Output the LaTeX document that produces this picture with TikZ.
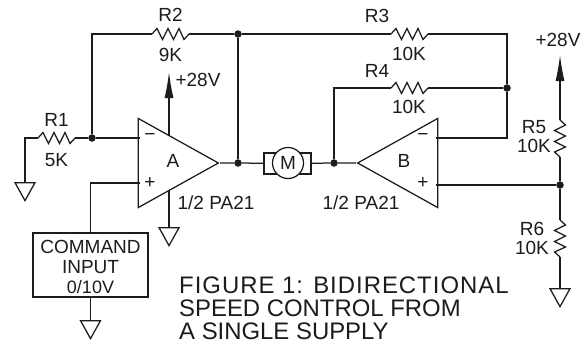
\documentclass[tikz,border=0pt]{standalone}
\usepackage{fontspec}
\setmainfont{Liberation Sans}
\newfontfamily\capfont[LetterSpace=4.2]{Liberation Sans}
\usetikzlibrary{positioning}
\usetikzlibrary{calc}
\usetikzlibrary{arrows.meta}
\usetikzlibrary{shapes.geometric}
\definecolor{ink}{HTML}{1c1c1c}
\tikzset{
    wire/.style={draw=ink, line width=1.25pt},
    opamp/.style={wire, isosceles triangle, isosceles triangle stretches, inner sep=0pt, minimum width=89pt, minimum height=80pt},
    gnd/.style={wire, isosceles triangle, isosceles triangle stretches, shape border rotate=-90, anchor=lower side, inner sep=0pt, minimum width=20pt, minimum height=18pt},
    dot/.style={circle, fill=ink, inner sep=0pt, minimum size=7.5pt},
    lab/.style={text=ink, inner sep=0pt, font=\fontsize{19}{19}\selectfont},
    supply/.style={wire, -{Latex[length=26pt, width=9pt]}},
    res/.pic={
        \draw[wire, line join=miter] (0,0) -- (5,-5.5) -- (10.5,5.5) -- (16,-5.5) -- (21.5,5.5) -- (27,-5.5) -- (32,5.5) -- (37,0);
        \coordinate (-in) at (0,0);
        \coordinate (-out) at (37,0);
        \coordinate (-mid) at (18.5,0);
    }
}
\begin{document}
\begin{tikzpicture}[x=1pt, y=-1pt]
    \useasboundingbox[fill=white] (0,0) rectangle (585,341);

    % amplifiers
    \node[opamp, anchor=apex] (A) at (220,163) {};
    \node[opamp, shape border rotate=180, anchor=apex] (B) at (356,163) {};
    \node[lab] (Aname) at (173,161) {A};
    \node[lab] (Bname) at (404,161) {B};
    \node[lab] (Aminus) at (150,137) {−};
    \node[lab] (Aplus) at (150,183) {+};
    \node[lab] (Bminus) at (423,137) {−};
    \node[lab] (Bplus) at (423,183) {+};
    \node[lab] (Apart) at (216,203) {1/2 PA21};
    \node[lab] (Bpart) at (361,203) {1/2 PA21};

    \coordinate (Ain1) at (140,138);
    \coordinate (Ain2) at (140,183);
    \coordinate (Bin1) at (436,138);
    \coordinate (Bin2) at (436,185);
    \coordinate (Atop) at ($(A.left corner)!0.38!(A.apex)$);
    \coordinate (Abot) at ($(A.right corner)!0.38!(A.apex)$);

    % motor
    \node[wire, minimum width=47pt, minimum height=21pt, inner sep=0pt] (box) at (287.5,163.5) {};
    \node[wire, circle, fill=white, minimum size=31pt, inner sep=0pt, lab] (M) at (288,163) {M};

    % resistors
    \pic (R1) at (38,138) {res};
    \pic (R2) at (152,34) {res};
    \pic (R3) at (391,34) {res};
    \pic (R4) at (391,88) {res};
    \pic[rotate=-90] (R5) at (560,120) {res};
    \pic[rotate=-90] (R6) at (560,220) {res};

    \node[lab, above = 11pt of R1-mid] (R1name) {R1};
    \node[lab, below = 15pt of R1-mid] (R1val) {5K};
    \node[lab, above = 12pt of R2-mid] (R2name) {R2};
    \node[lab, below = 14pt of R2-mid] (R2val) {9K};
    \node[lab] (R3name) at (377,16) {R3};
    \node[lab] (R3val) at (409,54) {10K};
    \node[lab] (R4name) at (377,71) {R4};
    \node[lab] (R4val) at (409,107) {10K};
    \node[lab] (R5name) at (534,127) {R5};
    \node[lab] (R5val) at (534,146) {10K};
    \node[lab] (R6name) at (532,229) {R6};
    \node[lab] (R6val) at (532,248) {10K};

    % junctions
    \node[dot] (j1) at (92,138) {};
    \node[dot] (j2) at (238,34) {};
    \node[dot] (j3) at (238,163) {};
    \node[dot] (j4) at (334,163) {};
    \node[dot] (j5) at (507,88) {};
    \node[dot] (j6) at (560,185) {};

    % grounds and supplies
    \node[gnd] (g1) at (25,182) {};
    \node[gnd] (g2) at (Abot |- 0,227) {};
    \node[gnd] (g3) at (90.5,320) {};
    \node[gnd] (g4) at (560,288) {};
    \coordinate (Avcc) at (Atop |- 0,72);
    \coordinate (Rvcc) at (560,55);
    \node[lab] (Avlab) at (198,80) {+28V};
    \node[lab] (Rvlab) at (558,40) {+28V};

    % command box
    \node[wire, minimum width=115pt, minimum height=64pt, inner sep=0pt] (cmd) at (90.5,265) {};
    \node[lab] (cmd1) at (90.5,247) {COMMAND};
    \node[lab] (cmd2) at (90.5,267) {INPUT};
    \node[lab, font=\fontsize{18}{18}\selectfont] (cmd3) at (90.5,287) {0/10V};

    % wires
    \draw[wire] (g1.lower side) |- (R1-in);
    \draw[wire] (R1-out) -- (j1) -- (Ain1);
    \draw[wire] (j1) |- (R2-in);
    \draw[wire] (R2-out) -- (j2) -- (R3-in);
    \draw[wire] (R3-out) -| (j5);
    \draw[wire] (j2) -- (j3);
    \draw[wire] (A.apex) -- (j3) -- (box);
    \draw[wire] (box) -- (j4) -- (B.apex);
    \draw[wire] (j4) |- (R4-in);
    \draw[wire] (R4-out) -- (j5);
    \draw[wire] (j5) |- (Bin1);
    \draw[wire] (Bin2) -- (j6);
    \draw[wire] (R5-out) -- (j6) -- (R6-in);
    \draw[wire] (R6-out) -- (g4.lower side);
    \draw[supply] (R5-in) -- (Rvcc);
    \draw[supply] (Atop) -- (Avcc);
    \draw[wire] (Abot) -- (g2.lower side);
    \draw[wire] (Ain2) -| (cmd.north);
    \draw[wire] (cmd.south) -- (g3.lower side);

    % caption
    \node[lab, anchor=base west, font=\fontsize{23.9}{24}\capfont] (title1) at (179,293) {FIGURE 1: BIDIRECTIONAL};
    \node[lab, anchor=base west, font=\fontsize{23.9}{24}\selectfont] (title2) at (179,316) {SPEED CONTROL FROM};
    \node[lab, anchor=base west, font=\fontsize{23.9}{24}\selectfont] (title3) at (179,339) {A SINGLE SUPPLY};
\end{tikzpicture}
\end{document}
